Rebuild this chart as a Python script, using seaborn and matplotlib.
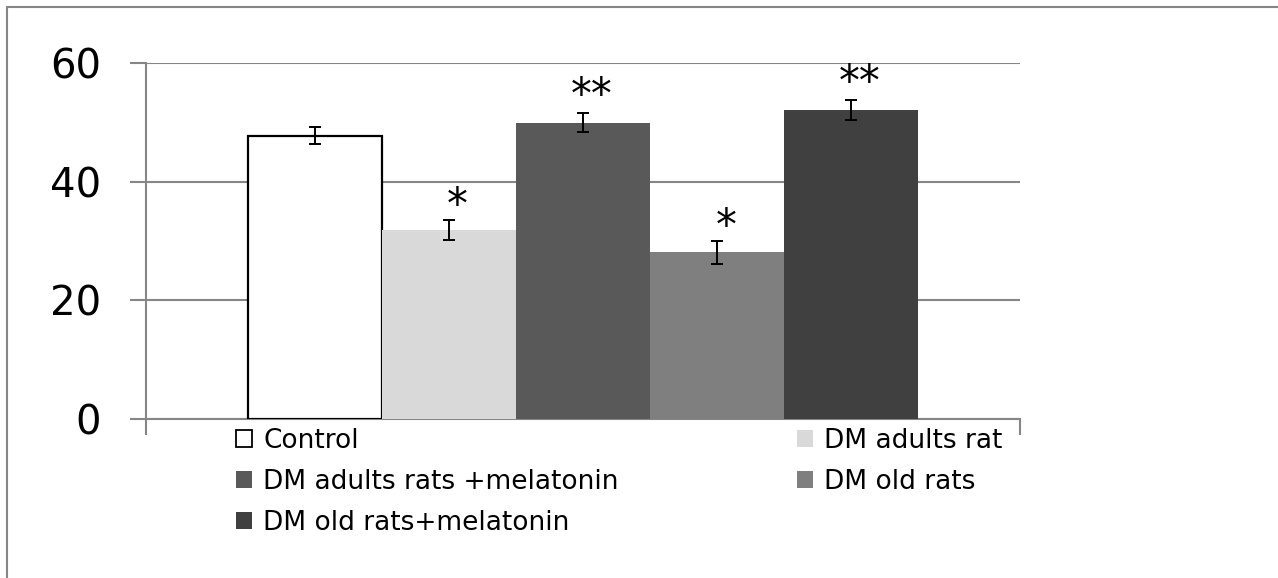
import matplotlib
matplotlib.use("Agg")
import matplotlib.pyplot as plt
from matplotlib.patches import Rectangle, Patch
import seaborn as sns
import pandas as pd
import numpy as np

groups = ["Control", "DM adults rat", "DM adults rats +melatonin", "DM old rats", "DM old rats+melatonin"]
values = [47.8, 31.8, 50.0, 28.1, 52.1]
errors = [1.4, 1.7, 1.6, 1.9, 1.7]
stars = ["", "*", "**", "*", "**"]
colors = ["#ffffff", "#d9d9d9", "#595959", "#7f7f7f", "#404040"]
yticks = [0, 20, 40, 60]

sns.set_theme(style="white")
plt.rcParams['font.family'] = ['DejaVu Sans']
plt.rcParams['text.color'] = 'black'

W, H = 1278, 578
fig = plt.figure(figsize=(W / 100, H / 100), dpi=100)
ax = fig.add_axes([146 / W, 1 - 418.7 / H, (1020 - 146) / W, (418.7 - 63.3) / H])

df = pd.DataFrame({"cat": [""] * len(groups), "group": groups, "value": values})
sns.barplot(data=df, x="cat", y="value", hue="group", hue_order=groups,
            palette=colors, width=0.767, dodge=True, errorbar=None,
            saturation=1, ax=ax, legend=False, linewidth=0, zorder=3)

grey = "#868686"
bars = ax.patches[:len(groups)]
for i, b in enumerate(bars):
    if i == 0:
        b.set_edgecolor("black")
        b.set_linewidth(1.6)
    cx = b.get_x() + b.get_width() / 2
    ax.errorbar(cx, values[i], yerr=errors[i], color="black", capsize=4.5,
                elinewidth=1.4, capthick=1.4, zorder=5)
    if stars[i]:
        off = 0.8 if len(stars[i]) == 2 else 0.4
        ax.text(cx + 0.01, values[i] + errors[i] + off, stars[i], ha="center",
                va="baseline", fontsize=30, color="black", zorder=6)

ax.set_ylim(0, 60)
ax.set_xlim(-0.5, 0.5)
ax.set_yticks(yticks)
ax.set_yticklabels([str(v) for v in yticks], fontsize=29, color="black")
ax.set_xticks([-0.5, 0.5])
ax.set_xticklabels(["", ""])
ax.set_xlabel("")
ax.set_ylabel("")
ax.grid(axis="y", color=grey, linewidth=1.5, zorder=0)
ax.set_axisbelow(True)
for s in ["top", "right"]:
    ax.spines[s].set_visible(False)
for s in ["left", "bottom"]:
    ax.spines[s].set_color(grey)
    ax.spines[s].set_linewidth(1.5)
ax.tick_params(axis="y", direction="out", length=11.5, width=1.5, color=grey, pad=21, left=True)
ax.tick_params(axis="x", direction="out", length=11.5, width=1.5, color=grey, bottom=True)

handles = [Patch(facecolor=c, edgecolor=("black" if i == 0 else c), linewidth=(1.3 if i == 0 else 0))
           for i, c in enumerate(colors)]
legkw = dict(frameon=False, fontsize=19, handlelength=0.62, handleheight=0.62,
             handletextpad=0.42, labelspacing=0.56, borderpad=0, borderaxespad=0,
             labelcolor="black")
leg1 = fig.legend([handles[0], handles[2], handles[4]], [groups[0], groups[2], groups[4]],
                  loc="upper left", bbox_to_anchor=(236 / W, 1 - 428 / H), **legkw)
leg2 = fig.legend([handles[1], handles[3]], [groups[1], groups[3]],
                  loc="upper left", bbox_to_anchor=(797 / W, 1 - 428 / H), **legkw)

fig.add_artist(Rectangle((6.5 / W, -0.1), 1.2, 1.1 - 7 / H, transform=fig.transFigure,
                         fill=False, edgecolor=grey, linewidth=1.5))

fig.savefig("out.png", dpi=100)
